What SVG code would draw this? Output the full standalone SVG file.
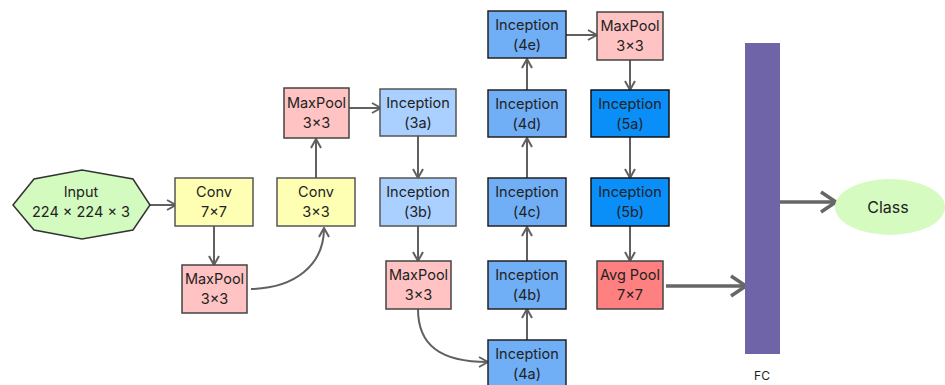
<svg xmlns="http://www.w3.org/2000/svg" width="945" height="385" viewBox="0 0 945 385">
<style>
text{font-family:Inter,"Noto Sans","Liberation Sans",sans-serif;font-size:14.5px;fill:#222;text-anchor:middle}
.conv{fill:#FFFFB3;stroke:#555;stroke-width:1.5}
.mp{fill:#FFC3C3;stroke:#444;stroke-width:1.5}
.i3{fill:#AAD0FF;stroke:#555;stroke-width:1.5}
.i4{fill:#70AEF6;stroke:#222;stroke-width:1.5}
.i5{fill:#0A8EF8;stroke:#111;stroke-width:1.5}
.ap{fill:#FF8080;stroke:#444;stroke-width:1.5}
.c{fill:none;stroke:#606060;stroke-width:2}
.cb{fill:none;stroke:#666;stroke-width:3.5}
</style>
<defs>
<marker id="ah" viewBox="0 0 12 12" refX="11" refY="6" markerWidth="12" markerHeight="12" markerUnits="userSpaceOnUse" orient="auto">
<path d="M2,1 L11,6 L2,11" fill="none" stroke="#606060" stroke-width="2"/>
</marker>
<marker id="ahb" viewBox="0 0 20 24" refX="18" refY="12" markerWidth="20" markerHeight="24" markerUnits="userSpaceOnUse" orient="auto">
<path d="M3,2 L18,12 L3,22" fill="none" stroke="#666" stroke-width="3.5"/>
</marker>
</defs>
<g id="connectors">
<path class="c" d="M150,205 H176" marker-end="url(#ah)"/>
<path class="c" d="M214,226 V265" marker-end="url(#ah)"/>
<path class="c" d="M251,289 C295,288 324,265 324,228" marker-end="url(#ah)"/>
<path class="c" d="M316,178 V139" marker-end="url(#ah)"/>
<path class="c" d="M349,108 H381" marker-end="url(#ah)"/>
<path class="c" d="M418,136 V178" marker-end="url(#ah)"/>
<path class="c" d="M418,226 V261" marker-end="url(#ah)"/>
<path class="c" d="M418,309 C418,345 440,362 488,362" marker-end="url(#ah)"/>
<path class="c" d="M527,340 V309" marker-end="url(#ah)"/>
<path class="c" d="M527,261 V227" marker-end="url(#ah)"/>
<path class="c" d="M527,178 V138" marker-end="url(#ah)"/>
<path class="c" d="M527,90 V59" marker-end="url(#ah)"/>
<path class="c" d="M566,35 H597" marker-end="url(#ah)"/>
<path class="c" d="M630,60 V90" marker-end="url(#ah)"/>
<path class="c" d="M630,137 V178" marker-end="url(#ah)"/>
<path class="c" d="M630,226 V261" marker-end="url(#ah)"/>
<path class="cb" d="M666,286 H746" marker-end="url(#ahb)"/>
<path class="cb" d="M780,202 H836" marker-end="url(#ahb)"/>
</g>
<g id="input">
<polygon points="13,205 34,179 82,170 133,179 150,205 133,230 82,239 34,230" fill="#D3FBC0" stroke="#333" stroke-width="1.5"/>
<text x="81" y="197">Input</text>
<text x="81" y="217">224 × 224 × 3</text>
</g>
<g id="conv7"><rect class="conv" x="175" y="178" width="78" height="48"/><text x="214" y="197">Conv</text><text x="214" y="217">7×7</text></g>
<g id="maxpool1"><rect class="mp" x="182" y="265" width="65" height="48"/><text x="214.5" y="284">MaxPool</text><text x="214.5" y="304">3×3</text></g>
<g id="conv3"><rect class="conv" x="277" y="178" width="78" height="48"/><text x="316" y="197">Conv</text><text x="316" y="217">3×3</text></g>
<g id="maxpool2"><rect class="mp" x="284" y="88" width="65" height="50"/><text x="316.5" y="108">MaxPool</text><text x="316.5" y="128">3×3</text></g>
<g id="inc3a"><rect class="i3" x="380" y="89" width="76" height="47"/><text x="418" y="108">Inception</text><text x="418" y="128">(3a)</text></g>
<g id="inc3b"><rect class="i3" x="380" y="178" width="76" height="48"/><text x="418" y="197">Inception</text><text x="418" y="217">(3b)</text></g>
<g id="maxpool3"><rect class="mp" x="386" y="261" width="65" height="48"/><text x="418.5" y="280">MaxPool</text><text x="418.5" y="300">3×3</text></g>
<g id="inc4a"><rect class="i4" x="488" y="340" width="78" height="48"/><text x="527" y="359">Inception</text><text x="527" y="379">(4a)</text></g>
<g id="inc4b"><rect class="i4" x="488" y="261" width="78" height="48"/><text x="527" y="280">Inception</text><text x="527" y="300">(4b)</text></g>
<g id="inc4c"><rect class="i4" x="488" y="178" width="78" height="48"/><text x="527" y="197">Inception</text><text x="527" y="217">(4c)</text></g>
<g id="inc4d"><rect class="i4" x="488" y="90" width="78" height="47"/><text x="527" y="109">Inception</text><text x="527" y="129">(4d)</text></g>
<g id="inc4e"><rect class="i4" x="488" y="11" width="78" height="47"/><text x="527" y="30">Inception</text><text x="527" y="50">(4e)</text></g>
<g id="maxpool4"><rect class="mp" x="597" y="12" width="66" height="48"/><text x="630" y="31">MaxPool</text><text x="630" y="51">3×3</text></g>
<g id="inc5a"><rect class="i5" x="591" y="90" width="78" height="47"/><text x="630" y="109">Inception</text><text x="630" y="129">(5a)</text></g>
<g id="inc5b"><rect class="i5" x="591" y="178" width="78" height="48"/><text x="630" y="197">Inception</text><text x="630" y="217">(5b)</text></g>
<g id="avgpool"><rect class="ap" x="597" y="261" width="66" height="48"/><text x="630" y="280">Avg Pool</text><text x="630" y="300">7×7</text></g>
<g id="fc"><rect x="745" y="43" width="35" height="311" fill="#6F64A8"/><text x="762" y="380" style="font-size:12px">FC</text></g>
<g id="class"><ellipse cx="890" cy="207" rx="55" ry="28" fill="#D5FBC0"/><text x="888" y="213" style="font-size:16px">Class</text></g>
</svg>
